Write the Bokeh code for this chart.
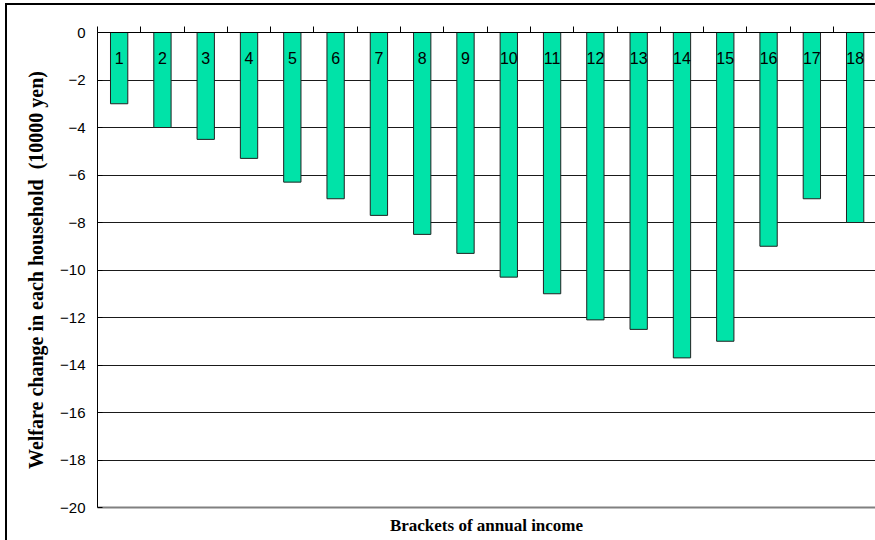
from bokeh.plotting import figure
from bokeh.models import (ColumnDataSource, Range1d, FixedTicker, LinearAxis,
                          CustomJSTickFormatter)
from bokeh.core.properties import value
from bokeh.embed import file_html
from bokeh.resources import INLINE

# Income brackets and the welfare change per household (10000 yen)
brackets = [str(i) for i in range(1, 19)]
welfare_change = [-3.0, -4.0, -4.5, -5.3, -6.3, -7.0, -7.7, -8.5, -9.3,
                  -10.3, -11.0, -12.1, -12.5, -13.7, -13.0, -9.0, -7.0, -8.0]
y_ticks = [0, -2, -4, -6, -8, -10, -12, -14, -16, -18, -20]

positions = list(range(1, len(brackets) + 1))
boundaries = [i + 0.5 for i in range(0, len(brackets) + 1)]

src = ColumnDataSource(dict(
    x=positions,
    value=welfare_change,
    zero=[0] * len(positions),
    label=brackets,
))

BAR_COLOR = "#00E3A8"
SANS = "Liberation Sans"
SERIF = "Liberation Serif"

p = figure(width=875, height=540,
           x_range=Range1d(0.5, 18.47), y_range=Range1d(-20, 0),
           x_axis_location="above", y_axis_location="left",
           output_backend="svg", toolbar_location=None,
           min_border_left=97, min_border_right=0,
           min_border_top=32, min_border_bottom=33)
p.outline_line_color = None
p.background_fill_color = "white"
# transparent outer area so the page-level frame lines show through
p.border_fill_color = None
p.styles = {
    "background-color": "white",
    "background-image": "linear-gradient(black, black), linear-gradient(black, black)",
    "background-size": "2px 100%, 100% 2px",
    "background-position": "5px 3px, 5px 3px",
    "background-repeat": "no-repeat",
}

# bars hang down from zero
p.vbar(x="x", top="zero", bottom="value", width=0.4, source=src,
       fill_color=BAR_COLOR, line_color="#222222", line_width=1)

# bracket numbers inside the bars, near the top
p.text(x="x", y="zero", text="label", source=src,
       text_font=value(SANS), text_font_size="16px", text_color="black",
       text_align="center", text_baseline="middle", y_offset=25)

# top axis at zero: short marks on the bracket boundaries, no labels
xa = p.xaxis[0]
xa.ticker = FixedTicker(ticks=[], minor_ticks=boundaries)
xa.major_tick_line_color = None
xa.minor_tick_out = 6
xa.minor_tick_in = 0
xa.minor_tick_line_color = "black"
xa.axis_line_color = "black"
p.xgrid.visible = False

# left value axis
ya = p.yaxis[0]
ya.ticker = FixedTicker(ticks=y_ticks)
ya.formatter = CustomJSTickFormatter(
    code="return tick < 0 ? '\u2212' + Math.abs(tick) : String(tick);")
ya.major_label_text_font = SANS
ya.major_label_text_font_size = "15px"
ya.major_label_text_color = "black"
ya.major_tick_in = 5
ya.major_tick_out = 0
ya.major_label_standoff = 12
ya.minor_tick_line_color = None
ya.axis_line_color = "black"
ya.major_tick_line_color = "black"
ya.axis_label = "Welfare change in each household\u00a0 (10000 yen)"
ya.axis_label_text_font = SERIF
ya.axis_label_text_font_style = "bold"
ya.axis_label_text_font_size = "20px"
ya.axis_label_text_color = "black"
ya.axis_label_standoff = 10

p.ygrid.ticker = FixedTicker(ticks=y_ticks)
p.ygrid.grid_line_color = "#1a1a1a"
p.ygrid.grid_line_width = 1

# bottom edge of the plot area carries the bracket title
xb = LinearAxis(ticker=FixedTicker(ticks=[]))
xb.major_tick_line_color = None
xb.minor_tick_line_color = None
xb.axis_line_color = "#808080"
xb.axis_line_width = 2
xb.axis_label = "Brackets of annual income"
xb.axis_label_text_font = SERIF
xb.axis_label_text_font_style = "bold"
xb.axis_label_text_font_size = "17px"
xb.axis_label_text_color = "black"
xb.axis_label_standoff = 8
p.add_layout(xb, "below")

open("out.html", "w").write(file_html(p, INLINE))
